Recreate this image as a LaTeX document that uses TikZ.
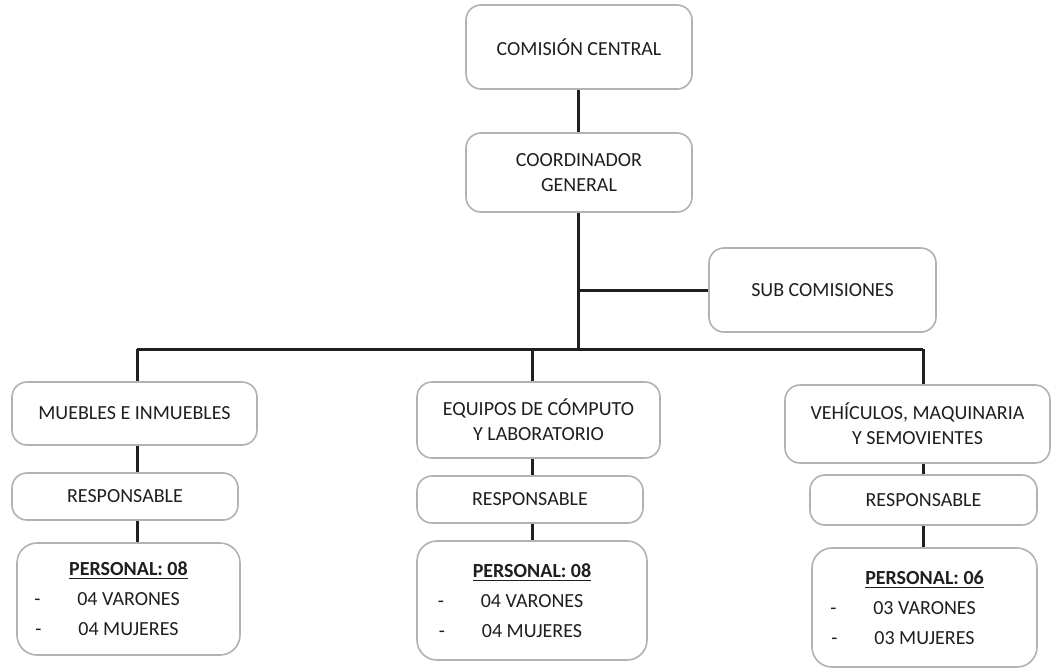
\documentclass[tikz,border=0pt]{standalone}
\usepackage{fontspec}
\setmainfont{Carlito}
\begin{document}
\begin{tikzpicture}[x=0.5pt,y=-0.5pt,
  box/.style={draw=gray!60, line width=0.8pt, rounded corners=7.5pt, align=center,
    font=\fontsize{10}{12.5}\selectfont, text=black!88, inner sep=0pt},
  perbox/.style={box, rounded corners=10pt, font=\fontsize{10}{15}\selectfont},
  conn/.style={line width=1.5pt, draw=black!88}]
\newcommand{\dashitem}[1]{\llap{\makebox[21.5pt][l]{-}}#1}
\useasboundingbox[fill=white] (0,0) rectangle (1053,671);

% top
\node[box, minimum width=113pt, minimum height=42pt] (com) at (579,47) {COMISIÓN CENTRAL};
\node[box, minimum width=113pt, minimum height=39.5pt] (coord) at (579,172.5) {COORDINADOR\\GENERAL};
\node[box, minimum width=113.5pt, minimum height=42pt] (sub) at (822.5,290) {SUB COMISIONES};

% column 1
\node[box, minimum width=122.5pt, minimum height=31.5pt] (mue) at (134.5,413.5) {MUEBLES E INMUEBLES};
\node[box, minimum width=113pt, minimum height=23.5pt] (resp1) at (125,496.5) {RESPONSABLE};
\node[perbox, minimum width=111.5pt, minimum height=56pt] (pers1) at (128.5,599)
  {\underline{\textbf{PERSONAL: 08}}\\\dashitem{04 VARONES}\\\dashitem{04 MUJERES}};

% column 2
\node[box, minimum width=121.5pt, minimum height=38pt] (equ) at (538.5,420) {EQUIPOS DE CÓMPUTO\\Y LABORATORIO};
\node[box, minimum width=113pt, minimum height=23.5pt] (resp2) at (530,499.5) {RESPONSABLE};
\node[perbox, minimum width=115pt, minimum height=59.5pt] (pers2) at (532,600.5)
  {\underline{\textbf{PERSONAL: 08}}\\\dashitem{04 VARONES}\\\dashitem{04 MUJERES}};

% column 3
\node[box, minimum width=132.5pt, minimum height=39pt] (veh) at (917.5,424) {VEHÍCULOS, MAQUINARIA\\Y SEMOVIENTES};
\node[box, minimum width=113.5pt, minimum height=25pt] (resp3) at (923.5,500) {RESPONSABLE};
\node[perbox, minimum width=112.5pt, minimum height=59.5pt] (pers3) at (924.5,607.5)
  {\underline{\textbf{PERSONAL: 06}}\\\dashitem{03 VARONES}\\\dashitem{03 MUJERES}};

% connector coordinates
\coordinate (bus) at (578,349);
\coordinate (c1) at (137,349);
\coordinate (c2) at (532,349);
\coordinate (c3) at (923,349);

\draw[conn] (com.south -| bus) -- (coord.north -| bus);
\draw[conn] (coord.south -| bus) -- (bus);
\draw[conn] (sub.west -| bus) -- (sub.west);
\draw[conn] (c1) -- (c3);
\draw[conn] (c1) -- (c1 |- mue.north);
\draw[conn] (c2) -- (c2 |- equ.north);
\draw[conn] (c3) -- (c3 |- veh.north);
\draw[conn] (c1 |- mue.south) -- (c1 |- resp1.north);
\draw[conn] (c1 |- resp1.south) -- (c1 |- pers1.north);
\draw[conn] (c2 |- equ.south) -- (c2 |- resp2.north);
\draw[conn] (c2 |- resp2.south) -- (c2 |- pers2.north);
\draw[conn] (c3 |- veh.south) -- (c3 |- resp3.north);
\draw[conn] (c3 |- resp3.south) -- (c3 |- pers3.north);
\end{tikzpicture}
\end{document}
